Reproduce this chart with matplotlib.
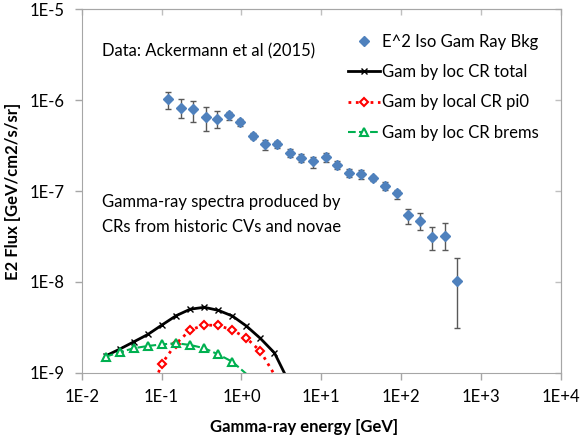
import numpy as np
import matplotlib
matplotlib.use("Agg")
import matplotlib.pyplot as plt
from matplotlib.ticker import NullLocator, FixedLocator

plt.rcParams.update({"font.family": ["Lato", "DejaVu Sans"], "font.size": 12})

# isotropic gamma-ray background (Ackermann et al 2015), E^2 flux
e_igrb = [0.121, 0.176, 0.244, 0.355, 0.497, 0.702, 0.97, 1.38, 1.98, 2.82,
          4.02, 5.62, 7.87, 11.4, 15.9, 22.2, 31.2, 44.0, 62.5, 87.3,
          123, 173, 244, 358, 506]
f_igrb = [1.02e-6, 8.26e-7, 7.94e-7, 6.48e-7, 6.21e-7, 6.87e-7, 5.71e-7, 4.04e-7, 3.30e-7, 3.30e-7,
          2.60e-7, 2.34e-7, 2.14e-7, 2.40e-7, 1.93e-7, 1.57e-7, 1.53e-7, 1.39e-7, 1.13e-7, 9.44e-8,
          5.45e-8, 4.68e-8, 3.09e-8, 3.19e-8, 1.02e-8]
f_hi = [1.24e-6, 1.02e-6, 9.88e-7, 8.48e-7, 7.60e-7, 7.47e-7, 6.17e-7, 4.32e-7, 3.65e-7, 3.56e-7,
        2.90e-7, 2.55e-7, 2.39e-7, 2.60e-7, 2.14e-7, 1.73e-7, 1.70e-7, 1.45e-7, 1.27e-7, 1.03e-7,
        6.28e-8, 5.68e-8, 3.98e-8, 4.41e-8, 1.84e-8]
f_lo = [8.0e-7, 6.41e-7, 5.79e-7, 4.58e-7, 4.91e-7, 6.05e-7, 5.24e-7, 3.71e-7, 2.83e-7, 3.00e-7,
        2.35e-7, 2.07e-7, 1.78e-7, 2.10e-7, 1.73e-7, 1.42e-7, 1.35e-7, 1.29e-7, 1.03e-7, 8.1e-8,
        4.33e-8, 3.72e-8, 2.24e-8, 2.24e-8, 3.12e-9]

# model spectra from local CRs
e_mod = [0.02, 0.03, 0.045, 0.0675, 0.101, 0.152, 0.228, 0.342, 0.513, 0.769, 1.15, 1.73, 2.59, 3.89]
f_total = [1.53e-9, 1.82e-9, 2.19e-9, 2.64e-9, 3.35e-9, 4.24e-9, 5.00e-9, 5.25e-9, 4.86e-9, 4.21e-9,
           3.27e-9, 2.38e-9, 1.65e-9, 8.0e-10]
f_pi0 = [np.nan, np.nan, np.nan, 5.0e-10, 1.26e-9, 2.09e-9, 2.95e-9, 3.35e-9, 3.31e-9, 2.95e-9,
         2.41e-9, 1.72e-9, 9.5e-10, np.nan]
f_brems = [1.50e-9, 1.68e-9, 1.86e-9, 1.97e-9, 2.05e-9, 2.11e-9, 2.02e-9, 1.86e-9, 1.59e-9, 1.32e-9,
           9.7e-10, 6.0e-10, 3.5e-10, 2.0e-10]

xticks = [1e-2, 1e-1, 1, 10, 100, 1e3, 1e4]
xlabels = ["1E-2", "1E-1", "1E+0", "1E+1", "1E+2", "1E+3", "1E+4"]
yticks = [1e-9, 1e-8, 1e-7, 1e-6, 1e-5]
ylabels = ["1E-9", "1E-8", "1E-7", "1E-6", "1E-5"]
YMIN, YMAX = 1e-9, 1e-5


def shown(vals):
    # only put markers on points inside the y range (as Excel does)
    return [i for i, v in enumerate(vals) if v == v and v >= YMIN]


fig = plt.figure(figsize=(5.81, 4.41), dpi=100)
ax = fig.add_axes([0.1406, 0.1549, 0.8250, 0.8238])

ax.errorbar(e_igrb, f_igrb,
            yerr=[np.array(f_igrb) - np.array(f_lo), np.array(f_hi) - np.array(f_igrb)],
            fmt="none", ecolor="#595959", elinewidth=1, capsize=2.2, capthick=1)
ax.plot(e_igrb, f_igrb, "D", ms=4.8, color="#4F81BD", label="E^2 Iso Gam Ray Bkg")
ax.plot(e_mod, f_total, "-", color="black", lw=2, marker="x", ms=4, mew=1,
        markevery=shown(f_total), label="Gam by loc CR total")
ax.plot(e_mod, f_pi0, ":", color="#FF0000", lw=2, marker="D", ms=4.5, mew=1.5,
        mfc="white", markevery=shown(f_pi0), label="Gam by local CR pi0")
ax.plot(e_mod, f_brems, "--", color="#00B050", lw=1.5, marker="^", ms=6, mew=1.5,
        mfc="white", markevery=shown(f_brems), label="Gam by loc CR brems")

ax.set_xscale("log"); ax.set_yscale("log")
ax.set_xlim(1e-2, 1e4); ax.set_ylim(YMIN, YMAX)
ax.xaxis.set_major_locator(FixedLocator(xticks))
ax.yaxis.set_major_locator(FixedLocator(yticks))
ax.set_xticklabels(xlabels); ax.set_yticklabels(ylabels)
ax.xaxis.set_minor_locator(NullLocator()); ax.yaxis.set_minor_locator(NullLocator())
ax.tick_params(direction="out", length=5, width=1, color="#A6A6A6", pad=7, labelsize=12,
               labelcolor="black")
for s in ax.spines.values():
    s.set_color("#A6A6A6")

# inward ticks on the top and right frame
sx = ax.secondary_xaxis("top")
sy = ax.secondary_yaxis("right")
sx.xaxis.set_major_locator(FixedLocator(xticks)); sx.xaxis.set_minor_locator(NullLocator())
sy.yaxis.set_major_locator(FixedLocator(yticks)); sy.yaxis.set_minor_locator(NullLocator())
for sec in (sx, sy):
    sec.tick_params(which="both", direction="in", length=4, width=1, color="#BFBFBF",
                    labeltop=False, labelright=False)
    for s in sec.spines.values():
        s.set_color("#BFBFBF")

ax.set_xlabel("Gamma-ray energy [GeV]", fontweight="bold", fontsize=12, va="center")
ax.set_ylabel("E2 Flux [GeV/cm2/s/sr]", fontweight="bold", fontsize=12, va="center")
ax.xaxis.set_label_coords(0.464, -0.1486)
ax.yaxis.set_label_coords(-0.1423, 0.5)

ax.text(0.0417, 0.8836, "Data: Ackermann et al (2015)", transform=ax.transAxes,
        ha="left", va="center", fontsize=12)
ax.text(0.0417, 0.4707, "Gamma-ray spectra produced by", transform=ax.transAxes,
        ha="left", va="center", fontsize=12)
ax.text(0.0417, 0.4019, "CRs from historic CVs and novae", transform=ax.transAxes,
        ha="left", va="center", fontsize=12)

ax.legend(loc="upper left", bbox_to_anchor=(0.5995, 0.9236), bbox_transform=fig.transFigure,
          frameon=False, borderpad=0, borderaxespad=0, labelspacing=0.86,
          handlelength=1.9, handletextpad=0.15, fontsize=12)

fig.savefig("out.png", dpi=100)
